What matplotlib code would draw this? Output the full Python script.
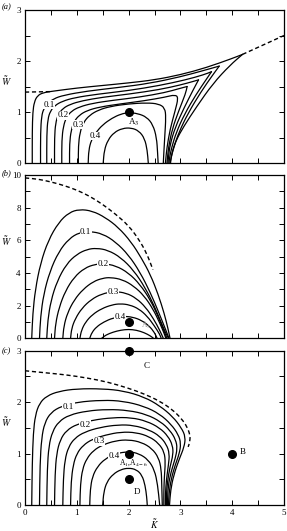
import matplotlib
matplotlib.use("Agg")
import matplotlib.pyplot as plt
from matplotlib.ticker import MultipleLocator
from matplotlib.path import Path
from matplotlib.patches import PathPatch

plt.rcParams['font.family'] = ['Liberation Serif', 'DejaVu Serif']
plt.rcParams['mathtext.fontset'] = 'stix'

# ---------------- data (K, W) ----------------
levels = ["0.05", "0.1", "0.15", "0.2", "0.25", "0.3", "0.35", "0.4", "0.45"]

# panel (a)
a_c1 = [(0.14,0),(0.14,0.6),(0.15,1.0),(0.18,1.2),(0.24,1.32),(0.35,1.38),(0.55,1.41),(1.0,1.47),(1.5,1.52),(2.0,1.57),(2.5,1.63),(3.0,1.73),(3.5,1.87),(4.0,2.05),(4.2,2.13),(3.96,1.92),(3.63,1.56),(3.31,1.10),(3.06,0.71),(2.92,0.45),(2.85,0.25),(2.82,0.1),(2.81,0)]
a_c2 = [(0.30,0),(0.30,0.6),(0.32,0.92),(0.36,1.06),(0.43,1.16),(0.55,1.26),(0.75,1.33),(1.2,1.41),(1.8,1.48),(2.4,1.56),(3.0,1.69),(3.4,1.8),(3.75,1.90),(3.62,1.72),(3.4,1.40),(3.15,0.98),(2.97,0.6),(2.87,0.3),(2.82,0.1),(2.80,0)]
a_c3 = [(0.42,0),(0.42,0.55),(0.44,0.86),(0.49,1.02),(0.58,1.13),(0.72,1.21),(0.95,1.28),(1.4,1.35),(2.0,1.42),(2.6,1.52),(3.1,1.63),(3.45,1.73),(3.6,1.79),(3.5,1.64),(3.3,1.34),(3.08,0.96),(2.92,0.6),(2.83,0.3),(2.79,0.1),(2.78,0)]
a_c4 = [(0.57,0),(0.57,0.5),(0.59,0.78),(0.64,0.95),(0.73,1.07),(0.87,1.15),(1.1,1.22),(1.5,1.29),(2.0,1.35),(2.6,1.44),(3.0,1.53),(3.25,1.6),(3.35,1.63),(3.25,1.44),(3.07,1.08),(2.9,0.7),(2.8,0.36),(2.77,0.12),(2.76,0)]
a_c5 = [(0.71,0),(0.71,0.45),(0.74,0.72),(0.8,0.9),(0.9,1.02),(1.05,1.1),(1.3,1.17),(1.7,1.23),(2.2,1.29),(2.7,1.38),(2.98,1.46),(3.13,1.5),(3.1,1.36),(2.97,1.03),(2.84,0.66),(2.77,0.3),(2.75,0.1),(2.74,0)]
a_c6 = [(0.86,0),(0.86,0.38),(0.89,0.64),(0.95,0.82),(1.05,0.94),(1.2,1.03),(1.45,1.1),(1.85,1.16),(2.3,1.22),(2.7,1.29),(2.9,1.34),(2.96,1.28),(2.9,1.03),(2.8,0.66),(2.74,0.3),(2.72,0.1),(2.71,0)]
a_c7 = [(1.03,0),(1.03,0.33),(1.06,0.6),(1.13,0.8),(1.25,0.94),(1.42,1.04),(1.65,1.11),(2.0,1.16),(2.35,1.18),(2.58,1.16),(2.7,1.08),(2.72,0.9),(2.7,0.55),(2.68,0.2),(2.67,0)]
a_c8 = [(1.22,0),(1.23,0.25),(1.28,0.45),(1.37,0.6),(1.5,0.75),(1.68,0.88),(1.85,0.96),(2.0,0.99),(2.18,0.97),(2.35,0.9),(2.47,0.75),(2.54,0.5),(2.56,0.2),(2.57,0)]
a_c9 = [(1.51,0),(1.53,0.25),(1.6,0.45),(1.72,0.6),(1.88,0.68),(2.05,0.69),(2.2,0.63),(2.31,0.48),(2.36,0.25),(2.38,0)]
a_dash_left = [(0.0,1.39),(0.5,1.40)]
a_dash_right = [(4.2,2.13),(5.0,2.50)]

# panel (b)
b_c1 = [(0.13,0),(0.15,1.5),(0.2,3.0),(0.3,4.6),(0.45,6.0),(0.65,7.1),(0.85,7.7),(1.05,7.9),(1.3,7.8),(1.55,7.4),(1.8,6.8),(2.05,5.9),(2.25,4.9),(2.42,3.9),(2.57,2.7),(2.69,1.5),(2.76,0.6),(2.8,0)]
b_c2 = [(0.28,0),(0.3,1.3),(0.36,2.7),(0.48,4.1),(0.65,5.3),(0.85,6.1),(1.05,6.48),(1.25,6.55),(1.5,6.4),(1.75,5.9),(2.0,5.1),(2.22,4.05),(2.42,2.8),(2.58,1.6),(2.7,0.65),(2.78,0)]
b_c3 = [(0.42,0),(0.44,1.1),(0.5,2.3),(0.62,3.5),(0.8,4.55),(1.0,5.15),(1.2,5.45),(1.38,5.52),(1.6,5.4),(1.85,4.95),(2.1,4.15),(2.32,3.1),(2.5,1.95),(2.63,0.95),(2.72,0.3),(2.77,0)]
b_c4 = [(0.57,0),(0.59,0.9),(0.66,1.9),(0.78,2.9),(0.95,3.75),(1.15,4.3),(1.35,4.53),(1.52,4.57),(1.75,4.45),(2.0,4.0),(2.22,3.3),(2.42,2.35),(2.57,1.35),(2.67,0.55),(2.74,0)]
b_c5 = [(0.73,0),(0.75,0.75),(0.82,1.55),(0.95,2.35),(1.12,3.0),(1.32,3.48),(1.5,3.68),(1.65,3.73),(1.88,3.6),(2.1,3.2),(2.3,2.6),(2.47,1.8),(2.6,0.95),(2.68,0.35),(2.72,0)]
b_c6 = [(0.88,0),(0.9,0.6),(0.97,1.2),(1.1,1.85),(1.28,2.38),(1.48,2.72),(1.72,2.87),(1.95,2.78),(2.15,2.45),(2.33,1.9),(2.48,1.2),(2.6,0.5),(2.67,0)]
b_c7 = [(1.06,0),(1.09,0.5),(1.17,1.0),(1.3,1.45),(1.48,1.82),(1.68,2.05),(1.84,2.12),(2.02,2.05),(2.2,1.8),(2.36,1.35),(2.5,0.75),(2.6,0.25),(2.63,0)]
b_c8 = [(1.25,0),(1.29,0.35),(1.38,0.7),(1.52,1.0),(1.7,1.25),(1.9,1.35),(2.08,1.3),(2.25,1.1),(2.4,0.75),(2.5,0.35),(2.55,0)]
b_c9 = [(1.48,0),(1.56,0.2),(1.7,0.38),(1.85,0.5),(2.0,0.55),(2.15,0.5),(2.3,0.35),(2.42,0.15),(2.48,0)]
b_dash = [(0.0,9.82),(0.25,9.75),(0.5,9.58),(0.75,9.36),(1.0,9.08),(1.25,8.7),(1.5,8.2),(1.75,7.6),(2.0,6.9),(2.2,6.05),(2.35,5.2),(2.47,4.2)]

# panel (c)
c_c1 = [(0.13,0),(0.14,0.8),(0.16,1.4),(0.2,1.75),(0.28,1.98),(0.42,2.12),(0.65,2.21),(1.0,2.26),(1.5,2.26),(1.9,2.22),(2.3,2.1),(2.6,1.93),(2.85,1.72),(3.02,1.5),(3.1,1.32),(3.07,1.12),(2.98,0.9),(2.87,0.58),(2.81,0.28),(2.79,0)]
c_c2 = [(0.28,0),(0.29,0.8),(0.32,1.3),(0.38,1.6),(0.5,1.8),(0.7,1.92),(1.0,2.0),(1.5,2.04),(1.9,2.02),(2.3,1.92),(2.6,1.77),(2.82,1.57),(2.96,1.37),(3.01,1.2),(2.98,1.0),(2.9,0.78),(2.82,0.5),(2.78,0.22),(2.77,0)]
c_c3 = [(0.42,0),(0.43,0.7),(0.46,1.15),(0.53,1.43),(0.65,1.62),(0.85,1.75),(1.2,1.83),(1.6,1.86),(2.0,1.84),(2.35,1.76),(2.62,1.62),(2.8,1.45),(2.91,1.27),(2.94,1.1),(2.9,0.9),(2.82,0.65),(2.76,0.35),(2.75,0)]
c_c4 = [(0.57,0),(0.58,0.6),(0.61,1.0),(0.68,1.27),(0.8,1.45),(1.0,1.57),(1.3,1.65),(1.7,1.7),(2.05,1.7),(2.35,1.63),(2.6,1.5),(2.76,1.34),(2.85,1.16),(2.86,0.98),(2.8,0.75),(2.75,0.45),(2.73,0.2),(2.73,0)]
c_c5 = [(0.73,0),(0.74,0.5),(0.77,0.88),(0.84,1.13),(0.96,1.3),(1.15,1.42),(1.45,1.51),(1.8,1.56),(2.1,1.55),(2.4,1.46),(2.6,1.34),(2.73,1.18),(2.79,1.0),(2.77,0.78),(2.73,0.5),(2.71,0.2),(2.71,0)]
c_c6 = [(0.88,0),(0.89,0.45),(0.93,0.78),(1.0,1.0),(1.12,1.16),(1.3,1.28),(1.55,1.36),(1.85,1.42),(2.15,1.41),(2.4,1.33),(2.58,1.2),(2.69,1.03),(2.71,0.82),(2.69,0.55),(2.68,0.25),(2.68,0)]
c_c7 = [(1.06,0),(1.07,0.4),(1.11,0.7),(1.19,0.9),(1.32,1.06),(1.5,1.17),(1.75,1.25),(2.0,1.27),(2.25,1.22),(2.45,1.1),(2.58,0.92),(2.63,0.7),(2.64,0.4),(2.65,0)]
c_c8 = [(1.25,0),(1.26,0.3),(1.3,0.55),(1.4,0.75),(1.55,0.9),(1.75,1.0),(2.0,1.04),(2.2,1.0),(2.38,0.88),(2.5,0.68),(2.56,0.4),(2.6,0)]
c_c9 = [(1.5,0),(1.52,0.25),(1.58,0.45),(1.7,0.6),(1.85,0.69),(2.0,0.72),(2.15,0.69),(2.26,0.58),(2.32,0.38),(2.35,0.15),(2.36,0)]
c_dash = [(0.0,2.61),(0.4,2.57),(0.8,2.53),(1.2,2.47),(1.6,2.39),(2.0,2.27),(2.3,2.16),(2.6,2.02),(2.85,1.85),(3.02,1.68),(3.13,1.52),(3.19,1.35),(3.18,1.22),(3.15,1.13)]

# points
a_pts_K = [2.0]; a_pts_W = [1.0]
b_pts_K = [2.0]; b_pts_W = [1.0]
c_pts_K = [2.0, 4.0, 2.0, 2.0]; c_pts_W = [3.0, 1.0, 1.0, 0.5]

# contour label positions (text, K, W)
a_labels = [("0.1",0.47,1.14),("0.2",0.74,0.94),("0.3",1.03,0.75),("0.4",1.35,0.53)]
b_labels = [("0.1",1.17,6.53),("0.2",1.5,4.55),("0.3",1.7,2.85),("0.4",1.83,1.33)]
c_labels = [("0.1",0.84,1.91),("0.2",1.16,1.56),("0.3",1.43,1.24),("0.4",1.72,0.95)]

# ---------------- figure ----------------
fig = plt.figure(figsize=(2.87, 5.31), dpi=100)
L, Wd = 25/287, 259/287
axa = fig.add_axes([L, 1-163/531, Wd, 153/531])
axb = fig.add_axes([L, 1-338.3/531, Wd, 163.3/531])
axc = fig.add_axes([L, 1-505/531, Wd, 154.3/531])


def smooth_path(pts):
    """Quadratic-Bezier path through the midpoints, using the read points as controls."""
    verts = [pts[0]]
    codes = [Path.MOVETO]
    if len(pts) == 2:
        verts.append(pts[1]); codes.append(Path.LINETO)
        return Path(verts, codes)
    mid = lambda p, q: ((p[0]+q[0])/2, (p[1]+q[1])/2)
    verts.append(mid(pts[0], pts[1])); codes.append(Path.LINETO)
    for i in range(1, len(pts)-1):
        verts += [pts[i], mid(pts[i], pts[i+1])]
        codes += [Path.CURVE3, Path.CURVE3]
    verts.append(pts[-1]); codes.append(Path.LINETO)
    return Path(verts, codes)


def draw(ax, curves, sharp=False):
    for c in curves:
        pieces = [c]
        if sharp:
            i = max(range(len(c)), key=lambda j: c[j][0])
            pieces = [c[:i+1], c[i:]]
        for p in pieces:
            ax.add_patch(PathPatch(smooth_path(p), fill=False, edgecolor='k',
                                   lw=0.9, joinstyle='round', capstyle='round'))


def dashed(ax, c):
    ax.add_patch(PathPatch(smooth_path(c), fill=False, edgecolor='k', lw=1.0,
                           linestyle=(0, (3, 2))))


def labels(ax, labs):
    for t, k, w in labs:
        ax.text(k, w, t, fontsize=6.5, ha='center', va='center',
                bbox=dict(facecolor='white', edgecolor='none', pad=0.3), zorder=5)


draw(axa, [a_c1, a_c2, a_c3, a_c4, a_c5], sharp=True)
draw(axa, [a_c6, a_c7, a_c8, a_c9])
dashed(axa, a_dash_left); dashed(axa, a_dash_right)
labels(axa, a_labels)
axa.plot(a_pts_K, a_pts_W, 'o', color='k', ms=5.5, zorder=6)
axa.text(2.09, 0.80, r"A$_3$", fontsize=6.5, ha='center', va='center', zorder=6)

draw(axb, [b_c1, b_c2, b_c3, b_c4, b_c5, b_c6, b_c7, b_c8, b_c9])
dashed(axb, b_dash)
labels(axb, b_labels)
axb.plot(b_pts_K, b_pts_W, 'o', color='k', ms=5.5, zorder=6)
axb.text(2.33, 0.8, r"A$_3$", fontsize=5.5, ha='center', va='center', color='0.6', zorder=6)

draw(axc, [c_c1, c_c2, c_c3, c_c4, c_c5, c_c6, c_c7, c_c8, c_c9])
dashed(axc, c_dash)
labels(axc, c_labels)
axc.plot(c_pts_K, c_pts_W, 'o', color='k', ms=5.5, zorder=6, clip_on=False)
axc.text(2.35, 2.7, "C", fontsize=6.5, ha='center', va='center')
axc.text(4.2, 1.04, "B", fontsize=6.5, ha='center', va='center')
axc.text(2.1, 0.82, r"A$_1$,A$_{4-6}$", fontsize=5.5, ha='center', va='center', zorder=6)
axc.text(2.16, 0.25, "D", fontsize=6.5, ha='center', va='center')

for ax, ymax, ymaj, ymin in [(axa, 3, 1, 0.5), (axb, 10, 2, 1), (axc, 3, 1, 0.5)]:
    ax.set_xlim(0, 5); ax.set_ylim(0, ymax)
    ax.xaxis.set_major_locator(MultipleLocator(1))
    ax.xaxis.set_minor_locator(MultipleLocator(0.5))
    ax.yaxis.set_major_locator(MultipleLocator(ymaj))
    ax.yaxis.set_minor_locator(MultipleLocator(ymin))
    ax.tick_params(which='both', direction='in', top=True, right=True,
                   length=3.8, width=0.7, labelsize=6.5, pad=3)
    for s in ax.spines.values():
        s.set_linewidth(0.9)
    ax.set_ylabel(r"$\tilde{W}$", fontsize=7, rotation=0)

axa.yaxis.set_label_coords(-0.07, 0.49)
axb.yaxis.set_label_coords(-0.07, 0.55)
axc.yaxis.set_label_coords(-0.07, 0.49)
axa.tick_params(labelbottom=False)
axb.tick_params(labelbottom=False)
axc.set_xlabel(r"$\tilde{K}$", fontsize=7, labelpad=0)

fig.text(2/287, 1-7/531, "(a)", fontsize=6, style='italic', ha='left', va='center')
fig.text(2/287, 1-172.7/531, "(b)", fontsize=6, style='italic', ha='left', va='center')
fig.text(2/287, 1-350.7/531, "(c)", fontsize=6, style='italic', ha='left', va='center')

fig.savefig("out.png", dpi=100)
